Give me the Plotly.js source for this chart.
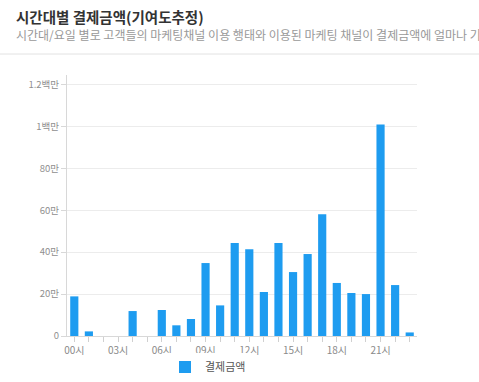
<!DOCTYPE html>
<html><head><meta charset="utf-8">
<script src="https://cdn.plot.ly/plotly-3.0.1.min.js"></script>
<style>html,body{margin:0;padding:0;background:#fff;}#chart{width:479px;height:382px;}</style>
</head><body><div id="chart"></div>
<script>
const hours = ["00시","01시","02시","03시","04시","05시","06시","07시","08시","09시","10시","11시","12시","13시","14시","15시","16시","17시","18시","19시","20시","21시","22시","23시"];
const amounts = [189000,22000,0,0,119000,0,124000,51000,81000,348000,146000,444000,414000,210000,444000,305000,391000,581000,253000,205000,200000,1009000,243000,17000];
const seriesName = "결제금액";
const yTickVals = [0,200000,400000,600000,800000,1000000,1200000];
const yTickText = ["0","20만","40만","60만","80만","1백만","1.2백만"];
const xTickText = hours.map((h,i)=> i%3===0 ? h : "");
const titleText = "시간대별 결제금액(기여도추정)";
const subtitleText = "시간대/요일 별로 고객들의 마케팅채널 이용 행태와 이용된 마케팅 채널이 결제금액에 얼마나 기여";

const font = "'Noto Sans CJK KR', 'Noto Sans', sans-serif";
const data = [{
  type:'bar', x:hours, y:amounts, name:seriesName,
  marker:{color:'#1e9cf0'}, showlegend:true
}];
const layout = {
  width:479, height:382,
  margin:{l:67, r:62, t:75, b:46, autoexpand:false},
  paper_bgcolor:'#fff', plot_bgcolor:'#fff',
  font:{family:font, color:'#888', size:10},
  bargap:0.44,
  xaxis:{type:'category', tickmode:'array', tickvals:hours, ticktext:xTickText, automargin:false,
    ticks:'outside', ticklen:5, tickcolor:'#d0d0d0', showline:true, linecolor:'#d8d8d8',
    showgrid:false, tickfont:{size:10, color:'#8a8a8a'}, fixedrange:true},
  yaxis:{range:[0,1245000], tickmode:'array', tickvals:yTickVals, ticktext:yTickText, automargin:false,
    ticks:'outside', ticklen:5, tickcolor:'#d8d8d8', showline:true, linecolor:'#d8d8d8',
    gridcolor:'#ececec', zeroline:false, tickfont:{size:9.5, color:'#8f8f8f'}, fixedrange:true},
  legend:{orientation:'h', x:0.28, xanchor:'left', yref:'container', y:1-367/382, yanchor:'middle',
    font:{size:11, color:'#555'}, itemwidth:30},
  annotations:[
    {text:titleText, xref:'paper', yref:'paper', x:-67/350+14/350, y:(336-17)/261, xanchor:'left', yanchor:'middle', showarrow:false, font:{size:14.5, color:'#333', family:font, weight:'bold'}},
    {text:subtitleText, xref:'paper', yref:'paper', x:-67/350+14/350, y:(336-34)/261, xanchor:'left', yanchor:'middle', showarrow:false, font:{size:12, color:'#999', family:font}}
  ],
  shapes:[{type:'line', xref:'paper', yref:'paper', x0:-67/350, x1:412/350, y0:(336-54)/261, y1:(336-54)/261, line:{color:'#e2e2e2', width:1}}]
};
Plotly.newPlot('chart', data, layout, {displayModeBar:false, staticPlot:true});
</script></body></html>
